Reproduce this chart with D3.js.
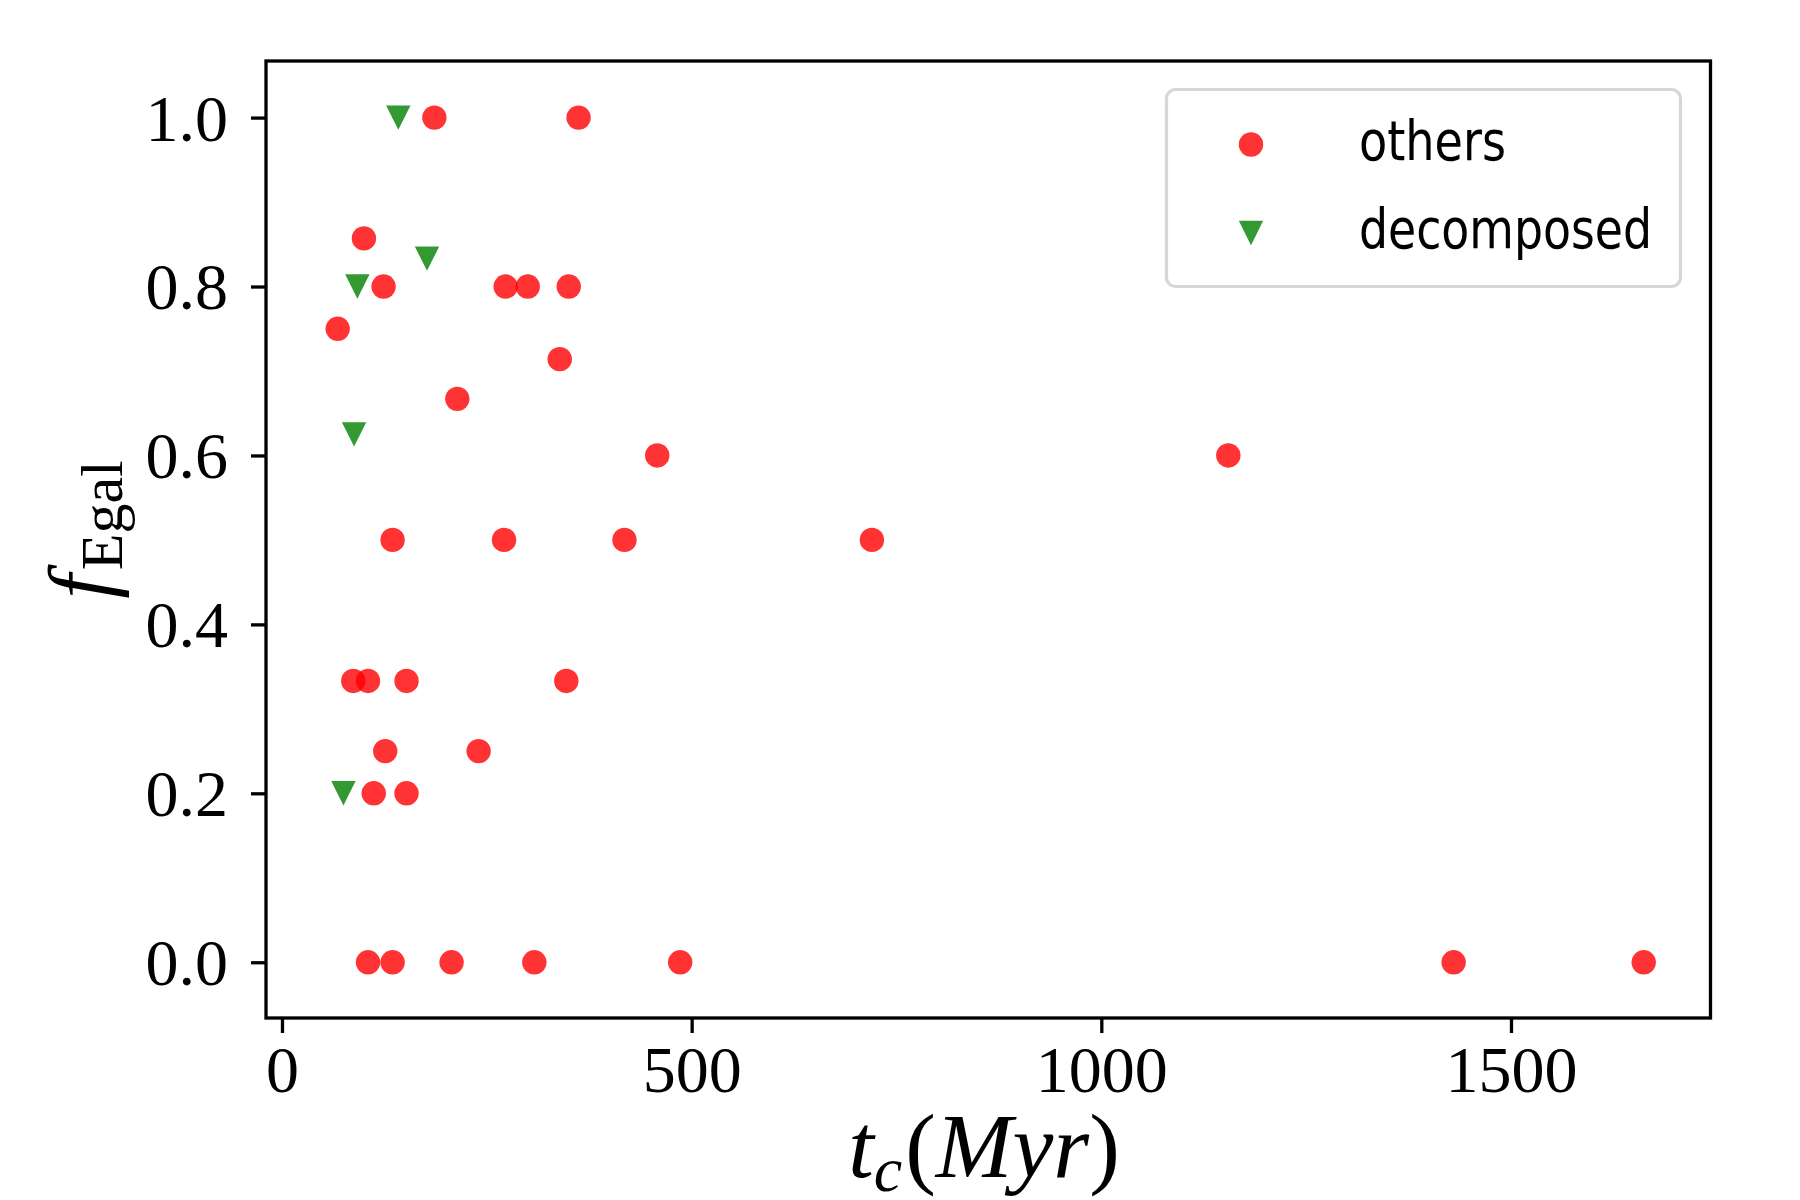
<!DOCTYPE html>
<html>
<head>
<meta charset="utf-8">
<script src="https://cdn.jsdelivr.net/npm/d3@7"></script>
<style>
    html, body { margin: 0; padding: 0; background: #fff; }
    svg { display: block; }
    .tick text { font-family: "Liberation Serif", "DejaVu Serif", serif; fill: #000; }
</style>
</head>
<body>
<svg id="chart" width="1800" height="1200"></svg>
<script>
// Daten: t_c (Myr) und f_Egal
const othersX = [186, 362, 100, 124, 273, 300, 350, 68, 339, 214, 458, 1155, 135, 271, 418, 720,
                 87, 105, 152, 347, 126, 240, 112, 152, 105, 135, 207, 308, 486, 1430, 1662];
const othersY = [1.0, 1.0, 0.857, 0.8, 0.8, 0.8, 0.8, 0.75, 0.714, 0.667, 0.6, 0.6, 0.5, 0.5, 0.5, 0.5,
                 0.333, 0.333, 0.333, 0.333, 0.25, 0.25, 0.2, 0.2, 0, 0, 0, 0, 0, 0, 0];
const decompX = [142, 177, 92, 88, 75];
const decompY = [1.0, 0.833, 0.8, 0.625, 0.2];

const xTicks = [0, 500, 1000, 1500];
const yTicks = [0, 0.2, 0.4, 0.6, 0.8, 1.0];
const legendLabels = ['others', 'decomposed'];

const xDomain = [-19.5, 1743.5];
const yDomain = [-0.066, 1.067];

const RED = 'red';
const GREEN = 'green';
const ALPHA = 0.8;
const R = 12.2;

const svg = d3.select('#chart');
svg.append('rect').attr('width', 1800).attr('height', 1200).attr('fill', '#fff');

const plot = { left: 266, right: 1710.5, top: 61, bottom: 1018 };

const xScale = d3.scaleLinear().domain(xDomain).range([plot.left, plot.right]);
const yScale = d3.scaleLinear().domain(yDomain).range([plot.bottom, plot.top]);

// Punkte: others
const others = othersX.map((x, i) => ({ x: x, y: othersY[i] }));
const decomp = decompX.map((x, i) => ({ x: x, y: decompY[i] }));

svg.append('g')
    .selectAll('circle')
    .data(others)
    .enter()
    .append('circle')
    .attr('cx', d => xScale(d.x))
    .attr('cy', d => yScale(d.y))
    .attr('r', R)
    .attr('fill', RED)
    .attr('fill-opacity', ALPHA);

// Dreiecke (nach unten) wie matplotlib 'v'
function triDown(cx, cy, s) {
    return `M${cx - s},${cy - s}L${cx + s},${cy - s}L${cx},${cy + s}Z`;
}

svg.append('g')
    .selectAll('path')
    .data(decomp)
    .enter()
    .append('path')
    .attr('d', d => triDown(xScale(d.x), yScale(d.y), R))
    .attr('fill', GREEN)
    .attr('fill-opacity', ALPHA);

// Achsen
const xAxis = d3.axisBottom(xScale)
    .tickValues(xTicks)
    .tickFormat(d3.format('d'))
    .tickSize(15)
    .tickSizeOuter(0);

const yAxis = d3.axisLeft(yScale)
    .tickValues(yTicks)
    .tickFormat(d3.format('.1f'))
    .tickSize(15)
    .tickPadding(23)
    .tickSizeOuter(0);

const gx = svg.append('g')
    .attr('transform', `translate(0,${plot.bottom})`)
    .call(xAxis);
gx.select('.domain').remove();
gx.selectAll('.tick line').attr('stroke', '#000').attr('stroke-width', 3.3);
gx.selectAll('.tick text')
    .attr('y', 74)
    .attr('dy', 0)
    .style('font-size', '66px');

const gy = svg.append('g')
    .attr('transform', `translate(${plot.left},0)`)
    .call(yAxis);
gy.select('.domain').remove();
gy.selectAll('.tick line').attr('stroke', '#000').attr('stroke-width', 3.3);
gy.selectAll('.tick text')
    .attr('dy', '0.34em')
    .style('font-size', '66px');

// Rahmen
svg.append('rect')
    .attr('x', plot.left)
    .attr('y', plot.top)
    .attr('width', plot.right - plot.left)
    .attr('height', plot.bottom - plot.top)
    .attr('fill', 'none')
    .attr('stroke', '#000')
    .attr('stroke-width', 3.3);

// X-Achsen-Label: t_c(Myr)
const xl = svg.append('text')
    .attr('x', 984)
    .attr('y', 1177)
    .attr('text-anchor', 'middle')
    .style('font-family', '"Liberation Serif", "DejaVu Serif", serif')
    .style('font-size', '92px');
xl.append('tspan').style('font-style', 'italic').text('t');
xl.append('tspan').style('font-style', 'italic').style('font-size', '64px').attr('dy', 14).text('c');
xl.append('tspan').attr('dy', -14).attr('dx', 3).text('(');
xl.append('tspan').style('font-style', 'italic').text('Myr');
xl.append('tspan').text(')');

// Y-Achsen-Label: f_Egal
const yl = svg.append('text')
    .attr('transform', `translate(110,${(plot.top + plot.bottom) / 2 - 10}) rotate(-90)`)
    .attr('text-anchor', 'middle')
    .style('font-family', '"Liberation Serif", "DejaVu Serif", serif')
    .style('font-size', '88px');
yl.append('tspan').style('font-style', 'italic').text('f');
yl.append('tspan').style('font-size', '60px').attr('dy', 12).attr('dx', 4).text('Egal');

// Legende
const legend = svg.append('g')
    .attr('transform', `translate(${plot.right - 30},${plot.top + 28.5})`);

legend.append('rect')
    .attr('x', -514)
    .attr('y', 0)
    .attr('width', 514)
    .attr('height', 197)
    .attr('rx', 9)
    .attr('fill', '#fff')
    .attr('fill-opacity', 0.8)
    .attr('stroke', '#d6d6d6')
    .attr('stroke-width', 3.2);

const legendWidths = [147, 293];
legendLabels.forEach((label, i) => {
    const item = legend.append('g')
        .attr('transform', `translate(-429.5, ${55 + i * 88.5})`);

    if (i === 0) {
        item.append('circle')
            .attr('r', R)
            .attr('fill', RED)
            .attr('fill-opacity', ALPHA);
    } else {
        item.append('path')
            .attr('d', triDown(0, 0, R))
            .attr('fill', GREEN)
            .attr('fill-opacity', ALPHA);
    }

    item.append('text')
        .attr('x', 108)
        .attr('y', 15)
        .attr('textLength', legendWidths[i])
        .attr('lengthAdjust', 'spacingAndGlyphs')
        .style('font-family', '"DejaVu Sans", sans-serif')
        .style('font-stretch', 'condensed')
        .style('font-size', '55px')
        .text(label);
});
</script>
</body>
</html>
